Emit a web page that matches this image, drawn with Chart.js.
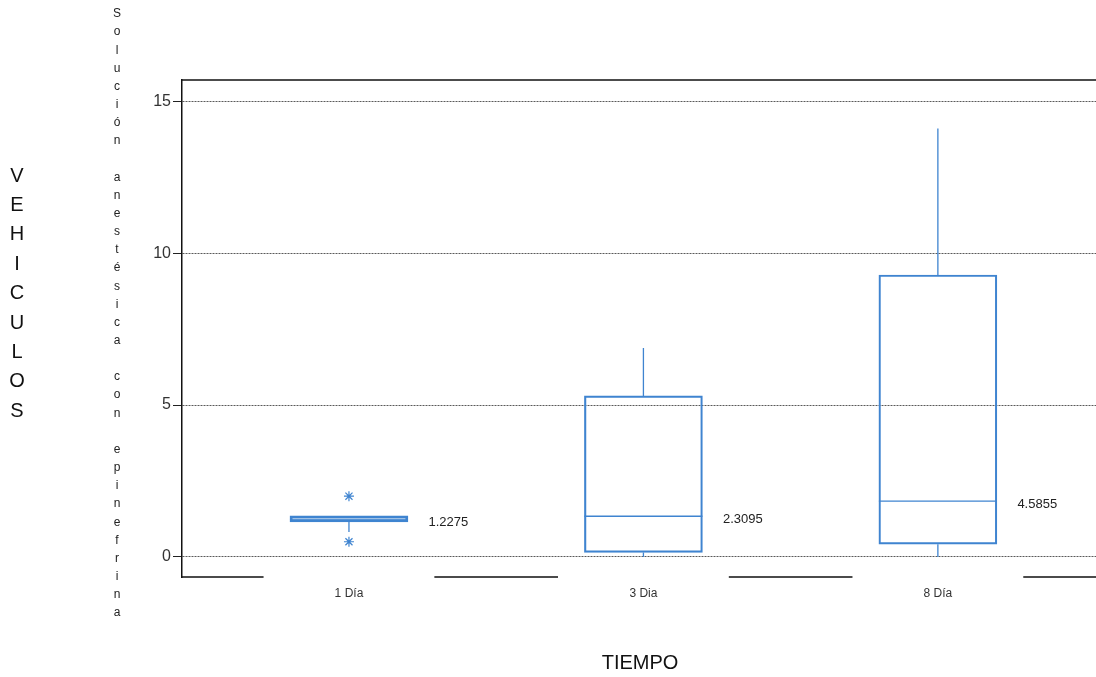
<!DOCTYPE html>
<html>
<head>
<meta charset="utf-8">
<script src="https://cdn.jsdelivr.net/npm/chart.js@4"></script>
<style>
  body { margin: 0; background: #fff; }
  #wrap { width: 1096px; height: 677px; }
</style>
</head>
<body>
<div id="wrap"><canvas id="boxChart" width="1096" height="677"></canvas></div>
<script>
// Data
const categories = ['1 Día', '3 Dia', '8 Día'];
const positions = [1, 2, 3];
const q1 = [1.15, 0.15, 0.42];
const q3 = [1.35, 5.3, 9.28];
const medians = [1.22, 1.34, 1.84];
const whiskerLow = [0.82, 0.0, 0.0];
const whiskerHigh = [1.35, 6.88, 14.1];
const outlierX = [1, 1];
const outlierY = [2.0, 0.5];
const valueLabels = ['1.2275', '2.3095', '4.5855'];
const yTicks = [0, 5, 10, 15];

const blue = '#3f84d0';
const fontFamily = '"Liberation Sans", Arial, sans-serif';

// whiskers as broken line segments
const whiskerPoints = [];
positions.forEach((p, i) => {
    whiskerPoints.push({ x: p, y: q1[i] }, { x: p, y: whiskerLow[i] }, { x: p, y: null });
    whiskerPoints.push({ x: p, y: q3[i] }, { x: p, y: whiskerHigh[i] }, { x: p, y: null });
});

const extrasPlugin = {
    id: 'extras',
    afterDraw(chart) {
        const { ctx, chartArea, scales } = chart;
        const xs = scales.x, ys = scales.y;
        ctx.save();

        // top frame line
        ctx.strokeStyle = '#111';
        ctx.lineWidth = 1.5;
        ctx.beginPath();
        ctx.moveTo(chartArea.left, chartArea.top);
        ctx.lineTo(chartArea.right, chartArea.top);
        ctx.stroke();

        // bottom line, broken under each category
        const gap = 0.29;
        let start = xs.min;
        const stops = positions.map(p => [p - gap, p + gap]);
        stops.push([xs.max, xs.max]);
        ctx.beginPath();
        stops.forEach(([a, b]) => {
            ctx.moveTo(xs.getPixelForValue(start), chartArea.bottom);
            ctx.lineTo(xs.getPixelForValue(a), chartArea.bottom);
            start = b;
        });
        ctx.stroke();

        // value labels beside the boxes
        ctx.fillStyle = '#222';
        ctx.font = '13px ' + fontFamily;
        ctx.textAlign = 'left';
        ctx.textBaseline = 'middle';
        positions.forEach((p, i) => {
            ctx.fillText(valueLabels[i], xs.getPixelForValue(p + 0.27), ys.getPixelForValue(medians[i]) + 3);
        });

        // stacked y titles
        ctx.textAlign = 'center';
        ctx.fillStyle = '#111';
        ctx.font = '20px ' + fontFamily;
        'VEHICULOS'.split('').forEach((ch, i) => ctx.fillText(ch, 17, 176 + i * 29.4));

        ctx.fillStyle = '#222';
        ctx.font = '12px ' + fontFamily;
        'Solución anestésica con epinefrina'.split('').forEach((ch, i) => ctx.fillText(ch, 117, 14 + i * 18.15));

        // x title
        ctx.fillStyle = '#111';
        ctx.font = '20px ' + fontFamily;
        ctx.fillText('TIEMPO', 640, 663);

        ctx.restore();
    }
};

new Chart(document.getElementById('boxChart'), {
    type: 'bar',
    data: {
        datasets: [
            {
                type: 'line',
                data: whiskerPoints,
                borderColor: blue,
                borderWidth: 1.3,
                pointRadius: 0,
                spanGaps: false,
                order: 3
            },
            {
                type: 'bar',
                data: positions.map((p, i) => ({ x: p, y: [q1[i], q3[i]] })),
                backgroundColor: 'rgba(0,0,0,0)',
                borderColor: blue,
                borderWidth: [2.2, 1.5, 1.5],
                borderSkipped: false,
                barThickness: 118,
                order: 2
            },
            {
                type: 'scatter',
                data: positions.map((p, i) => ({ x: p, y: medians[i] })),
                pointStyle: 'line',
                pointRadius: 59,
                borderColor: blue,
                borderWidth: 1.3,
                order: 1
            },
            {
                type: 'scatter',
                data: outlierX.map((x, i) => ({ x: x, y: outlierY[i] })),
                pointStyle: 'star',
                pointRadius: 5,
                borderColor: blue,
                borderWidth: 1.2,
                order: 0
            }
        ]
    },
    options: {
        responsive: false,
        animation: false,
        layout: { autoPadding: false, padding: { top: 80, left: 0, right: 0, bottom: 0 } },
        plugins: {
            legend: { display: false },
            tooltip: { enabled: false }
        },
        scales: {
            x: {
                type: 'linear',
                offset: false,
                min: 0.433,
                max: 3.537,
                grid: { display: false, drawTicks: false, offset: false },
                border: { display: false },
                afterBuildTicks: (scale) => { scale.ticks = positions.map(v => ({ value: v })); },
                afterFit: (scale) => { scale.height = 100; scale.paddingRight = 0; scale.paddingLeft = 0; },
                ticks: {
                    padding: 9,
                    color: '#333',
                    font: { family: fontFamily, size: 12 },
                    callback: (v) => categories[positions.indexOf(v)]
                }
            },
            y: {
                min: -0.66,
                max: 15.7,
                afterBuildTicks: (scale) => { scale.ticks = yTicks.map(v => ({ value: v })); },
                afterFit: (scale) => { scale.width = 182; },
                grid: { color: '#5a5a5a', lineWidth: 1, tickLength: 9, tickColor: '#222' },
                border: { display: true, color: '#111', width: 1.5, dash: [2, 1] },
                ticks: {
                    padding: 2,
                    color: '#333',
                    font: { family: fontFamily, size: 16 }
                }
            }
        }
    },
    plugins: [extrasPlugin]
});
</script>
</body>
</html>
